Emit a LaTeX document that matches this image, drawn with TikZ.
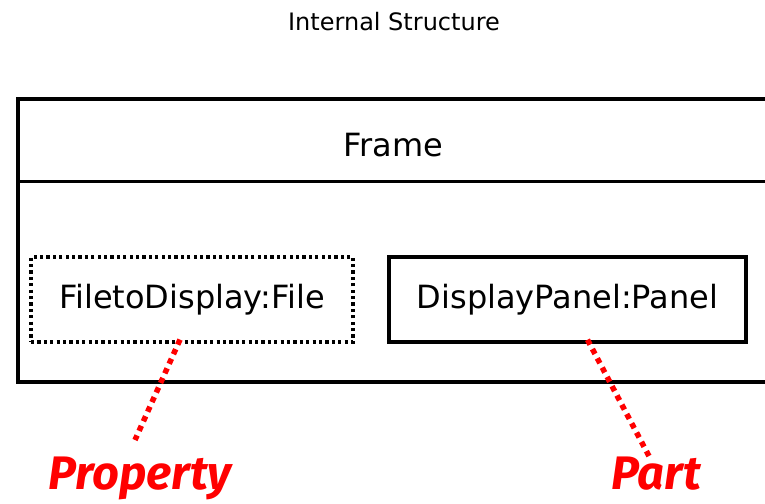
\documentclass[tikz,border=0pt]{standalone}
\usepackage{fontspec}
\setmainfont{DejaVu Sans}
\newfontfamily\notefont{Fira Sans}
\usetikzlibrary{positioning}

\begin{document}
\begin{tikzpicture}[
  x=1pt, y=-1pt,
  framebox/.style={draw, line width=3.5pt, minimum width=750pt, minimum height=283pt},
  partbox/.style={draw, line width=3.5pt, minimum width=357pt, minimum height=85pt, font=\fontsize{32}{38}\selectfont},
  propbox/.style={draw, line width=3.2pt, dash pattern=on 3.2pt off 3.2pt, minimum width=322pt, minimum height=85pt, font=\fontsize{32}{38}\selectfont},
  note/.style={text=red, inner sep=0pt, anchor=north, font=\notefont\bfseries\itshape\fontsize{47}{52}\selectfont},
  pointer/.style={red, line width=5.5pt, dash pattern=on 5.5pt off 5pt}
]
\useasboundingbox (0,0) rectangle (765,503);

\node (title) at (394,22) {\fontsize{24}{28}\selectfont Internal Structure};

% the frame with its name compartment
\node[framebox] (frame) at (393,240.5) {};
\path (frame.north west) ++(0,84) coordinate (sepl);
\path (frame.north east) ++(0,84) coordinate (sepr);
\draw[line width=3.5pt] (sepl) -- (sepr);
\node (framename) at (393,145) {\fontsize{32}{38}\selectfont Frame};

% contents
\node[propbox] (prop) at (192,299.5) {FiletoDisplay:File};
\node[partbox] (part) at (567.5,299.5) {DisplayPanel:Panel};

% red notes
\node[note] (propnote) at (140,457) {Property};
\node[note] (partnote) at (656,457) {Part};

\draw[pointer] ([shift={(-12,-4)}]prop.south) -- ([shift={(-5,-17)}]propnote.north);
\draw[pointer] ([shift={(20,-4)}]part.south) -- ([shift={(-6,1)}]partnote.north);
\end{tikzpicture}
\end{document}
